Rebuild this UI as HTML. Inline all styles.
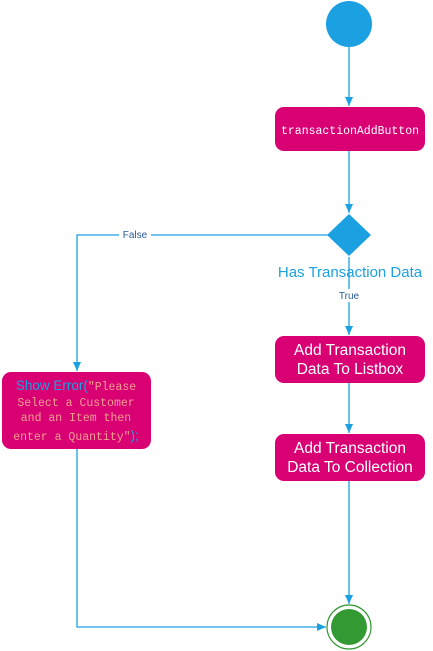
<!DOCTYPE html>
<html><head><meta charset="utf-8"><style>
html,body{margin:0;padding:0;background:#fff;width:433px;height:651px;overflow:hidden}
</style></head><body>
<svg width="433" height="651" xmlns="http://www.w3.org/2000/svg">
<defs>
<marker id="a" markerWidth="10" markerHeight="10" refX="9" refY="5" orient="auto" markerUnits="userSpaceOnUse">
<path d="M0,1 L9,5 L0,9 z" fill="#1ba1e2"/></marker>
</defs>
<g stroke="#1ba1e2" stroke-width="1.3" fill="none">
<line x1="349" y1="47" x2="349" y2="106" marker-end="url(#a)"/>
<line x1="349" y1="151" x2="349" y2="213" marker-end="url(#a)"/>
<line x1="349" y1="257" x2="349" y2="335" marker-end="url(#a)"/>
<line x1="349" y1="383" x2="349" y2="433" marker-end="url(#a)"/>
<line x1="349" y1="481" x2="349" y2="604" marker-end="url(#a)"/>
<polyline points="328,235 77,235 77,371" marker-end="url(#a)"/>
<polyline points="77,449 77,627 326,627" marker-end="url(#a)"/>
</g>
<circle cx="349" cy="24" r="23" fill="#1ba1e2"/>
<rect x="275" y="107" width="150" height="44" rx="9" fill="#d80073"/>
<text x="350" y="134" text-anchor="middle" font-family="Liberation Mono, monospace" font-size="11.5" fill="#fff">transactionAddButton</text>
<polygon points="349,214 371,235 349,256 327,235" fill="#1ba1e2"/>
<text x="350" y="277" text-anchor="middle" font-family="Liberation Sans, sans-serif" font-size="15" fill="#1ba1e2">Has Transaction Data</text>
<rect x="338" y="289" width="23" height="13" fill="#fff"/>
<text x="349" y="299" text-anchor="middle" font-family="Liberation Sans, sans-serif" font-size="10" fill="#2a5a9a">True</text>
<rect x="119" y="229" width="32" height="12" fill="#fff"/>
<text x="135" y="238" text-anchor="middle" font-family="Liberation Sans, sans-serif" font-size="10" fill="#2a5a9a">False</text>
<rect x="275" y="336" width="150" height="47" rx="9" fill="#d80073"/>
<text x="350" y="355" text-anchor="middle" font-family="Liberation Sans, sans-serif" font-size="15.5" fill="#fff">Add Transaction</text>
<text x="350" y="374" text-anchor="middle" font-family="Liberation Sans, sans-serif" font-size="15.5" fill="#fff">Data To Listbox</text>
<rect x="275" y="434" width="150" height="47" rx="9" fill="#d80073"/>
<text x="350" y="453" text-anchor="middle" font-family="Liberation Sans, sans-serif" font-size="15.5" fill="#fff">Add Transaction</text>
<text x="350" y="472" text-anchor="middle" font-family="Liberation Sans, sans-serif" font-size="15.5" fill="#fff">Data To Collection</text>
<rect x="2" y="372" width="149" height="77" rx="9" fill="#d80073"/>
<text x="76" y="390" text-anchor="middle" font-size="11.5"><tspan font-family="Liberation Sans, sans-serif" font-size="13.5" fill="#1ba1e2">Show Error(</tspan><tspan font-family="Liberation Mono, monospace" fill="#f0a090">"Please</tspan></text>
<text x="76" y="406" text-anchor="middle" font-family="Liberation Mono, monospace" font-size="11.5" fill="#f0a090">Select a Customer</text>
<text x="76" y="421" text-anchor="middle" font-family="Liberation Mono, monospace" font-size="11.5" fill="#f0a090">and an Item then</text>
<text x="76" y="440" text-anchor="middle" font-size="11.5"><tspan font-family="Liberation Mono, monospace" fill="#f0a090">enter a Quantity"</tspan><tspan font-family="Liberation Sans, sans-serif" font-size="13.5" fill="#1ba1e2">);</tspan></text>
<circle cx="349" cy="627" r="22" fill="#fff" stroke="#339933" stroke-width="1.2"/>
<circle cx="349" cy="627" r="18" fill="#339933"/>
</svg>
</body></html>
